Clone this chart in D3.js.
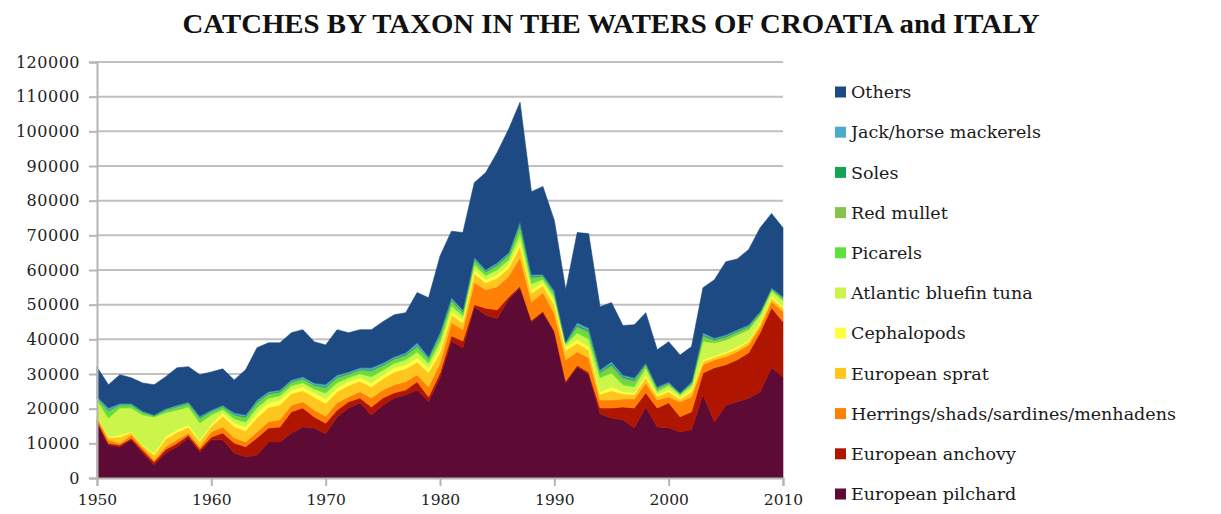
<!DOCTYPE html>
<html>
<head>
<meta charset="utf-8">
<script src="https://cdn.jsdelivr.net/npm/d3@7/dist/d3.min.js"></script>
<style>
  html, body { margin: 0; padding: 0; background: #fff; }
  svg { display: block; }
</style>
</head>
<body>
<svg id="chart" width="1221" height="514"></svg>
<script>
// Catches by taxon (tonnes), 1950–2010
const years = d3.range(1950, 2011);

const pilchard = [16000,9500,9000,11000,7200,3800,7200,9000,11600,7500, 11000,11000,7200,6100,6600,10400,10400,13000,14700,14400, 12800,17600,20200,21700,18200,21000,23100,24000,25400,22000, 29000,39500,37500,49400,47000,46000,51500,54900,45100,47700, 42000,27500,32000,30000,18500,17300,16800,14500,20500,14700, 14500,13300,13900,24000,16200,21000,22000,23000,24900,31800, 29200];
const anchovy = [500,500,500,500,800,800,1000,1000,700,800, 800,2000,2900,2900,5000,4000,4300,6100,5500,3200, 3000,2000,1800,1400,2300,2100,1500,1400,2400,1400, 1300,1500,2000,600,2000,2500,700,400,400,400, 500,500,500,500,1700,2900,3700,5700,4100,5500, 7200,4400,5200,6300,15600,11700,12100,13100,17000,17300, 15900];
const herrings = [1000,1000,500,900,700,600,800,1000,700,700, 1500,1700,1500,1400,1700,1800,2100,1900,1800,2000, 2000,2100,1400,1800,2600,2300,2300,2400,1900,2900, 2700,3800,3300,6400,5300,6700,5900,8300,5300,5400, 5000,6100,3900,4200,2300,2300,2300,2600,2800,2300, 1700,4300,4300,2400,2300,2300,2300,2300,1600,1800, 2900];
const sprat = [400,700,1800,700,600,1500,2200,2200,1700,1500, 1600,3100,3200,3200,4100,4100,4300,3300,3200,3700, 3700,3200,3300,3000,3200,3200,3700,3700,3700,4100, 3200,2200,2000,2600,2000,2500,2400,3200,2500,2000, 2500,2700,2500,2200,1700,2700,1500,1300,1600,1100, 1500,800,1500,900,700,900,900,900,1000,1000, 1000];
const cephalopods = [100,200,600,200,200,500,700,700,600,500, 600,1000,1100,1100,1400,1400,1400,1100,1100,1300, 1300,1100,1100,1000,1100,1100,1200,1200,1300,1400, 1300,1000,900,1100,900,1000,1000,1400,1000,900, 1000,1100,1000,1000,700,1100,600,500,700,400, 600,400,600,500,400,500,500,500,500,600, 500];
const tuna = [4500,5400,7800,6900,8700,10400,6900,5700,5200,4900, 2700,900,1200,1400,1500,1300,1200,1200,1200,1100, 1700,1500,1100,1200,1800,1400,1300,1400,1700,1300, 1800,1600,1100,1400,1200,1400,1400,2300,1800,900, 1200,600,2000,2200,4000,4000,2000,1700,2100,900, 1200,800,1200,5300,3800,3400,3500,3000,2000,1500, 1700];
const picarels = [400,1500,600,600,500,300,500,600,600,900, 600,600,700,900,900,800,700,700,700,700, 1000,900,700,700,1100,900,800,800,1100,800, 1100,1000,700,900,700,800,900,1500,1100,600, 800,300,1200,1300,800,1100,1000,900,500,500, 300,200,300,600,300,300,300,300,200,200, 200];
const redMullet = [300,600,300,300,300,100,300,400,400,500, 400,300,400,500,600,500,400,400,400,400, 600,600,400,400,700,500,500,500,600,500, 700,600,400,500,400,500,500,900,700,300, 400,200,700,800,800,1100,1000,900,500,500, 400,200,400,1000,600,600,600,600,400,400, 500];
const soles = [100,200,100,100,100,100,100,100,100,200, 100,200,200,300,300,200,200,200,200,200, 300,300,200,200,300,300,200,300,300,200, 400,300,200,300,200,300,300,500,300,200, 200,100,400,400,300,500,400,400,200,200, 100,100,100,400,200,300,300,200,200,100, 200];
const jack = [200,600,300,300,200,100,300,300,300,300, 300,200,400,400,400,400,400,400,400,400, 600,400,400,400,500,400,400,400,600,400, 500,500,400,400,400,400,400,600,500,300, 400,200,600,700,400,500,400,400,200,200, 200,100,200,500,300,300,300,300,200,200, 200];
const others = [8500,6700,8300,7400,8100,8700,9200,10800,10200,12000, 11000,10500,9500,13000,15100,14100,13600,13600,13600,11900, 11400,13100,11300,11000,11000,11900,12100,11600,14500,17000, 22000,19200,22300,21600,28000,31800,35600,34400,23900,25400, 20300,15000,26000,27200,18200,17100,14300,15300,14500,10700, 11600,10900,10200,13000,16800,21100,20400,21700,24200,21400, 19900];

const yTicks = [0,10000,20000,30000,40000,50000,60000,70000,80000,90000,100000,110000,120000];
const xTicks = [1950,1960,1970,1980,1990,2000,2010];

// stacking order, bottom to top
const series = [
  { key: "European pilchard", values: pilchard, color: "#5d0b34" },
  { key: "European anchovy", values: anchovy, color: "#b01500" },
  { key: "Herrings/shads/sardines/menhadens", values: herrings, color: "#ff8005" },
  { key: "European sprat", values: sprat, color: "#ffc61f" },
  { key: "Cephalopods", values: cephalopods, color: "#ffff40" },
  { key: "Atlantic bluefin tuna", values: tuna, color: "#cbf54a" },
  { key: "Picarels", values: picarels, color: "#5be33c" },
  { key: "Red mullet", values: redMullet, color: "#86c24c" },
  { key: "Soles", values: soles, color: "#12a552" },
  { key: "Jack/horse mackerels", values: jack, color: "#4aadc9" },
  { key: "Others", values: others, color: "#1d4a83" }
];

const table = years.map((yr, i) => {
  const row = { year: yr };
  series.forEach(s => { row[s.key] = s.values[i]; });
  return row;
});

const svg = d3.select("#chart");
const plotLeft = 97, plotRight = 783, plotTop = 62, plotBottom = 478;

const x = d3.scaleLinear().domain([1950, 2010]).range([plotLeft, plotRight]);
const y = d3.scaleLinear().domain([0, 120000]).range([plotBottom, plotTop]);

const serif = "'DejaVu Serif', 'Liberation Serif', serif";

// title
svg.append("text")
  .attr("x", 611).attr("y", 33)
  .attr("text-anchor", "middle")
  .attr("font-family", "'Liberation Serif', 'DejaVu Serif', serif")
  .attr("font-weight", "bold")
  .attr("font-size", 27)
  .attr("textLength", 857)
  .attr("lengthAdjust", "spacingAndGlyphs")
  .attr("fill", "#111")
  .text("CATCHES BY TAXON IN THE WATERS OF CROATIA and ITALY");

// horizontal gridlines
svg.append("g")
  .selectAll("line")
  .data(yTicks.filter(d => d > 0))
  .join("line")
  .attr("x1", plotLeft).attr("x2", plotRight)
  .attr("y1", d => y(d)).attr("y2", d => y(d))
  .attr("stroke", "#c0c0c0")
  .attr("stroke-width", 2);

// stacked areas
const stack = d3.stack().keys(series.map(s => s.key));
const stacked = stack(table);
const area = d3.area()
  .x(d => x(d.data.year))
  .y0(d => y(d[0]))
  .y1(d => y(d[1]))
  .curve(d3.curveLinear);

svg.append("g")
  .selectAll("path")
  .data(stacked)
  .join("path")
  .attr("d", area)
  .attr("fill", (d, i) => series[i].color)
  .attr("stroke", (d, i) => series[i].color)
  .attr("stroke-width", 0.6);

// y axis
const yAxis = d3.axisLeft(y).tickValues(yTicks).tickSize(8).tickPadding(9).tickFormat(d3.format("d"));
const gy = svg.append("g").attr("transform", `translate(${plotLeft},0)`).call(yAxis);
gy.select(".domain").attr("stroke", "#b5b5b5").attr("stroke-width", 2);
gy.selectAll(".tick line").attr("stroke", "#b5b5b5").attr("stroke-width", 2);
gy.selectAll(".tick text")
  .attr("font-family", serif)
  .attr("font-size", 16)
  .attr("letter-spacing", 0.5)
  .attr("fill", "#222");

// x axis
const xAxis = d3.axisBottom(x).tickValues(xTicks).tickSize(8).tickPadding(8).tickFormat(d3.format("d"));
const gx = svg.append("g").attr("transform", `translate(0,${plotBottom})`).call(xAxis);
gx.select(".domain").attr("stroke", "#b5b5b5").attr("stroke-width", 2);
gx.selectAll(".tick line").attr("stroke", "#b5b5b5").attr("stroke-width", 2);
gx.selectAll(".tick text")
  .attr("font-family", serif)
  .attr("font-size", 15.5)
  .attr("fill", "#222");

// legend, top entry = top layer
const legendItems = series.slice().reverse();
const lg = svg.append("g").attr("transform", "translate(835,92)");
const rows = lg.selectAll("g")
  .data(legendItems)
  .join("g")
  .attr("transform", (d, i) => `translate(0,${i * 40.2})`);
rows.append("rect")
  .attr("x", 0).attr("y", -5.5)
  .attr("width", 11).attr("height", 11)
  .attr("fill", d => d.color);
rows.append("text")
  .attr("x", 16).attr("y", 0)
  .attr("dy", "0.35em")
  .attr("font-family", serif)
  .attr("font-size", 17.5)
  .attr("fill", "#1a1a1a")
  .text(d => d.key);
</script>
</body>
</html>
